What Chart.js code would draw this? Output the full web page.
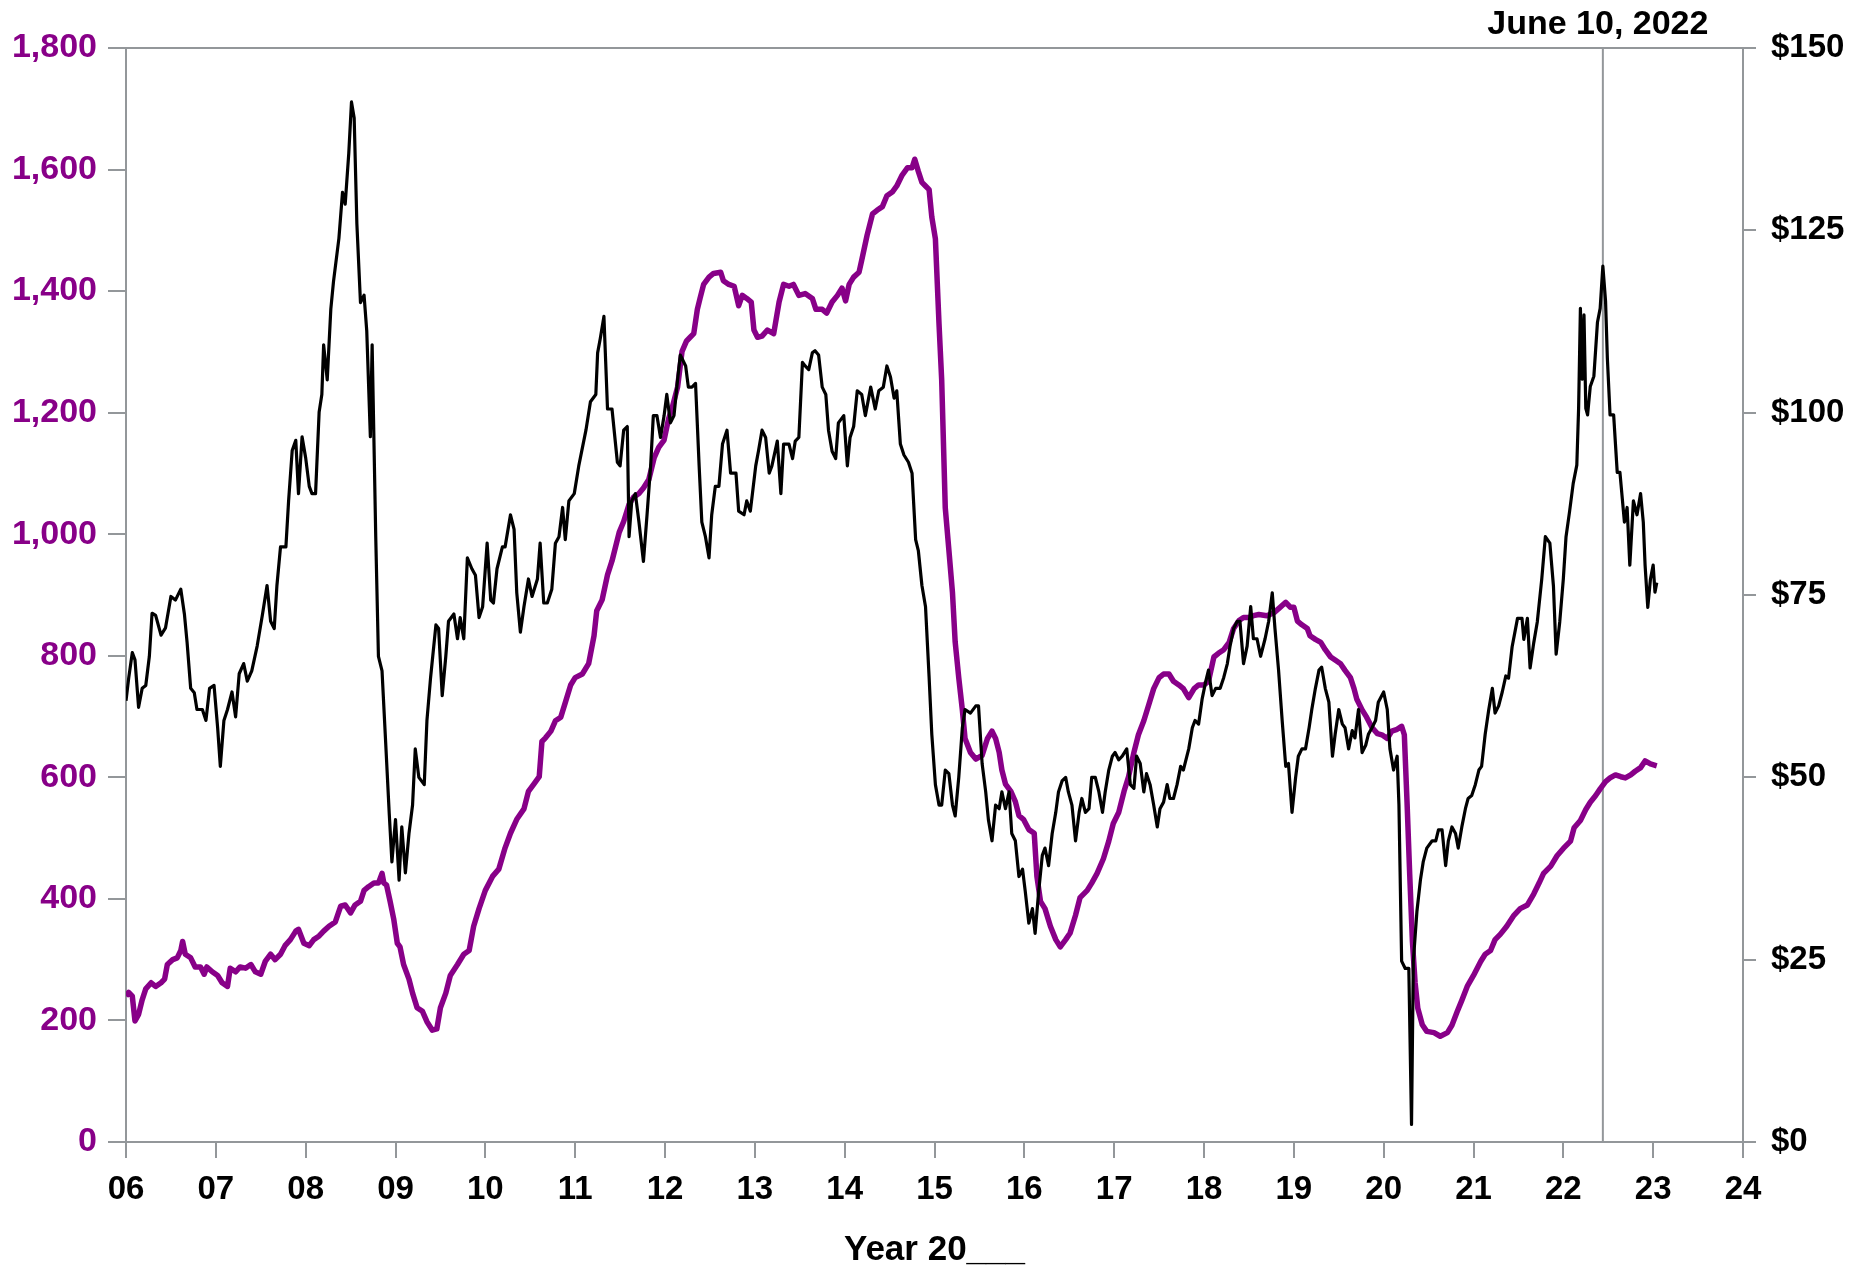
<!DOCTYPE html>
<html>
<head>
<meta charset="utf-8">
<script src="https://cdn.jsdelivr.net/npm/chart.js@4.4.1/dist/chart.umd.min.js"></script>
<style>
  html, body { margin: 0; padding: 0; background: #fff; }
  #wrap { width: 1855px; height: 1268px; position: relative; }
</style>
</head>
<body>
<div id="wrap"><canvas id="myChart"></canvas></div>
<script>
// x = years after 2000 (6.5 = mid 2006)
// WTI oil price, $/bbl (right axis)
const wtiPrice = [
  [6.00,60.5],[6.03,63.6],[6.07,67.1],[6.10,66.1],[6.14,59.6],[6.18,62.2],[6.22,62.6],[6.26,66.6],[6.29,72.5],[6.33,72.2],[6.39,69.5],[6.44,70.5],
  [6.50,74.8],[6.55,74.3],[6.61,75.8],[6.65,72.4],[6.68,68.5],[6.72,62.2],[6.76,61.6],[6.79,59.3],[6.85,59.3],[6.89,57.8],[6.93,62.2],[6.98,62.6],
  [7.02,56.8],[7.05,51.5],[7.09,57.8],[7.13,59.3],[7.18,61.7],[7.22,58.3],[7.26,64.2],[7.31,65.6],[7.35,63.2],[7.40,64.6],[7.46,68.0],[7.52,72.4],
  [7.57,76.3],[7.61,71.4],[7.65,70.4],[7.68,76.3],[7.72,81.6],[7.78,81.6],[7.81,87.9],[7.85,94.8],[7.89,96.2],[7.92,88.9],[7.96,96.7],
  [8.00,93.8],[8.04,89.9],[8.07,88.9],[8.11,88.9],[8.15,100.1],[8.18,102.5],[8.20,109.3],[8.24,104.5],[8.28,114.2],[8.31,118.0],[8.37,123.9],
  [8.41,130.2],[8.44,128.6],[8.48,135.6],[8.51,142.6],[8.54,140.4],[8.57,125.9],[8.61,115.1],[8.65,116.1],[8.68,111.2],[8.72,96.7],[8.74,109.3],
  [8.78,83.0],[8.81,66.6],[8.85,64.6],[8.89,54.9],[8.93,45.1],[8.96,38.4],
  [9.00,44.2],[9.04,35.9],[9.07,43.2],[9.11,36.9],[9.15,42.3],[9.19,46.2],[9.22,53.9],[9.26,50.0],[9.32,49.0],[9.35,57.8],[9.39,63.6],[9.45,70.9],
  [9.48,70.4],[9.52,61.2],[9.56,66.6],[9.59,71.4],[9.65,72.4],[9.69,69.0],[9.72,71.9],[9.76,69.0],[9.80,80.1],[9.85,78.6],[9.89,77.7],[9.93,71.9],[9.97,73.4],
  [10.02,82.1],[10.06,74.3],[10.09,73.9],[10.13,78.6],[10.19,81.6],[10.22,81.6],[10.28,86.0],[10.32,84.0],[10.35,75.3],[10.39,69.9],[10.43,73.4],
  [10.48,77.2],[10.52,74.8],[10.58,77.2],[10.61,82.1],[10.65,73.9],[10.69,73.9],[10.74,75.8],[10.78,82.1],[10.82,83.0],[10.86,87.0],[10.89,82.6],
  [10.93,87.9],[10.99,88.9],
  [11.04,92.7],[11.12,97.6],[11.17,101.5],[11.23,102.5],[11.25,108.2],[11.28,110.2],[11.32,113.2],[11.36,100.5],[11.41,100.5],[11.47,93.2],
  [11.50,92.7],[11.54,97.6],[11.58,98.1],[11.60,83.0],[11.63,87.9],[11.67,88.9],[11.71,85.0],[11.76,79.6],[11.80,86.0],[11.84,92.7],[11.87,99.6],
  [11.91,99.6],[11.95,96.6],[11.99,99.6],
  [12.02,102.5],[12.06,98.6],[12.10,99.6],[12.14,104.5],[12.17,107.9],[12.23,106.4],[12.26,103.5],[12.30,103.5],[12.34,104.0],[12.38,92.7],
  [12.41,85.0],[12.45,83.0],[12.49,80.1],[12.52,86.0],[12.56,89.9],[12.60,89.9],[12.64,95.7],[12.69,97.6],[12.73,91.7],[12.79,91.7],[12.82,86.5],
  [12.88,86.0],[12.91,87.9],[12.95,86.5],
  [13.01,92.7],[13.04,94.7],[13.08,97.6],[13.12,96.6],[13.16,91.7],[13.19,92.7],[13.25,96.1],[13.29,88.9],[13.32,95.7],[13.38,95.7],[13.42,93.7],
  [13.45,96.1],[13.49,96.6],[13.53,106.9],[13.56,106.4],[13.60,105.9],[13.64,108.2],[13.67,108.5],[13.71,107.9],[13.75,103.5],[13.79,102.5],
  [13.82,97.6],[13.86,94.7],[13.90,93.7],[13.93,98.6],[13.99,99.6],
  [14.03,92.7],[14.06,96.6],[14.10,98.1],[14.14,103.0],[14.19,102.5],[14.23,99.6],[14.29,103.5],[14.34,100.5],[14.38,103.0],[14.43,103.5],
  [14.47,106.4],[14.51,104.9],[14.55,102.0],[14.58,103.0],[14.62,95.7],[14.66,94.2],[14.71,93.2],[14.75,91.7],[14.79,82.6],[14.82,81.1],
  [14.86,76.3],[14.90,73.4],[14.94,63.7],[14.97,55.9],
  [15.01,49.0],[15.05,46.2],[15.08,46.2],[15.12,51.0],[15.16,50.5],[15.20,46.2],[15.23,44.7],[15.27,50.0],[15.31,56.8],[15.34,59.3],[15.40,58.8],
  [15.46,59.8],[15.49,59.8],[15.53,51.9],[15.57,48.0],[15.60,44.2],[15.64,41.3],[15.68,46.2],[15.72,45.7],[15.75,48.0],[15.79,45.7],[15.83,48.0],
  [15.86,42.3],[15.90,41.3],[15.94,36.4],[15.98,37.4],
  [16.01,34.4],[16.05,30.0],[16.09,32.0],[16.12,28.6],[16.16,34.4],[16.20,39.3],[16.23,40.3],[16.27,37.9],[16.31,42.3],[16.35,45.2],[16.38,48.0],
  [16.42,49.5],[16.46,50.0],[16.49,48.0],[16.53,46.2],[16.57,41.3],[16.61,45.2],[16.64,47.1],[16.68,45.2],[16.72,45.7],[16.75,50.0],[16.79,50.0],
  [16.83,48.0],[16.87,45.2],[16.90,48.0],[16.94,51.0],[16.98,52.9],
  [17.01,53.4],[17.05,52.4],[17.09,52.9],[17.14,53.9],[17.18,49.0],[17.22,48.5],[17.25,52.9],[17.29,51.9],[17.33,48.0],[17.36,50.5],[17.40,49.0],
  [17.44,46.2],[17.48,43.2],[17.51,45.7],[17.55,46.6],[17.59,49.0],[17.62,47.1],[17.66,47.1],[17.70,49.0],[17.74,51.5],[17.77,51.0],[17.83,53.9],
  [17.87,56.8],[17.90,57.8],[17.94,57.3],[17.98,60.8],
  [18.02,63.2],[18.05,64.7],[18.09,61.2],[18.13,62.2],[18.18,62.2],[18.22,63.7],[18.26,65.6],[18.29,68.0],[18.33,70.4],[18.37,71.4],[18.40,71.4],
  [18.44,65.6],[18.48,68.0],[18.52,73.4],[18.55,69.0],[18.59,69.0],[18.63,66.6],[18.68,69.0],[18.72,71.4],[18.76,75.3],[18.79,70.4],[18.83,64.7],
  [18.87,57.8],[18.91,51.5],[18.94,51.9],[18.98,45.2],
  [19.02,50.0],[19.05,52.9],[19.09,53.9],[19.13,53.9],[19.17,56.8],[19.20,59.3],[19.24,62.2],[19.28,64.7],[19.31,65.1],[19.35,62.2],[19.39,60.3],
  [19.43,52.9],[19.46,55.9],[19.50,59.3],[19.54,57.3],[19.57,56.8],[19.61,53.9],[19.65,56.4],[19.68,55.4],[19.72,59.3],[19.76,53.4],[19.80,54.4],
  [19.83,55.9],[19.87,56.8],[19.91,57.8],[19.94,60.3],
  [20.00,61.7],[20.04,59.3],[20.07,53.9],[20.11,51.0],[20.15,52.9],[20.17,46.2],[20.20,24.8],[20.24,23.8],[20.28,23.8],[20.31,2.4],[20.33,24.8],
  [20.37,31.6],[20.41,36.0],[20.44,38.4],[20.48,40.3],[20.54,41.3],[20.58,41.3],[20.61,42.8],[20.65,42.8],[20.69,37.9],[20.72,41.3],[20.76,43.2],
  [20.80,42.3],[20.83,40.3],[20.87,43.2],[20.91,45.7],[20.94,47.1],[20.98,47.5],
  [21.02,49.0],[21.06,51.0],[21.09,51.5],[21.13,55.9],[21.17,59.3],[21.21,62.2],[21.24,58.8],[21.28,59.8],[21.32,61.7],[21.36,63.9],[21.39,63.6],
  [21.43,67.9],[21.49,71.8],[21.54,71.8],[21.56,68.9],[21.60,71.8],[21.63,65.0],[21.67,68.4],[21.71,71.3],[21.76,77.2],[21.80,83.0],[21.85,82.1],
  [21.89,76.2],[21.92,66.9],[21.96,71.3],
  [22.00,77.2],[22.03,83.0],[22.07,86.5],[22.11,90.3],[22.15,92.8],[22.17,100.6],[22.19,114.3],[22.21,104.6],[22.23,113.4],[22.25,100.6],
  [22.27,99.7],[22.30,103.6],[22.34,105.0],[22.38,112.4],[22.41,114.3],[22.44,120.1],[22.47,115.3],[22.49,107.5],[22.52,99.7],[22.56,99.7],
  [22.60,91.8],[22.63,91.8],[22.68,85.0],[22.71,87.0],[22.74,79.1],[22.78,87.9],[22.82,86.0],[22.86,88.9],[22.89,85.0],[22.91,79.1],[22.94,73.3],
  [22.97,77.2],[23.00,79.1],[23.02,75.4],[23.04,76.7]
];

// oil rig count (left axis)
const rigCount = [
  [6.00,240],[6.03,246],[6.07,240],[6.10,199],[6.14,210],[6.18,234],[6.22,252],[6.28,262],[6.33,256],[6.39,262],[6.43,268],[6.46,292],
  [6.52,300],[6.57,303],[6.61,315],[6.63,330],[6.66,309],[6.72,303],[6.77,288],[6.83,288],[6.87,276],[6.90,288],[6.96,280],
  [7.02,274],[7.07,262],[7.13,256],[7.16,286],[7.22,280],[7.27,288],[7.33,286],[7.39,292],[7.44,280],[7.50,276],[7.55,297],[7.61,309],
  [7.66,300],[7.72,309],[7.77,323],[7.83,333],[7.89,347],[7.92,350],[7.98,327],
  [8.04,323],[8.09,333],[8.15,339],[8.20,347],[8.26,355],[8.33,362],[8.39,388],[8.44,390],[8.50,377],[8.55,390],[8.61,396],[8.65,414],
  [8.70,420],[8.76,426],[8.81,426],[8.85,442],[8.87,426],[8.90,423],[8.94,396],[8.98,367],
  [9.02,327],[9.05,321],[9.09,292],[9.15,268],[9.19,245],[9.24,221],[9.30,215],[9.35,198],[9.41,184],[9.46,186],[9.50,221],[9.56,245],
  [9.61,274],[9.69,292],[9.76,309],[9.82,315],[9.87,355],[9.93,384],
  [10.00,414],[10.08,437],[10.15,449],[10.22,484],[10.28,508],[10.35,531],[10.43,548],[10.48,577],[10.54,589],[10.60,601],[10.63,659],
  [10.67,665],[10.73,676],[10.78,693],[10.84,699],[10.89,723],[10.95,752],
  [11.00,764],[11.08,770],[11.15,787],[11.21,833],[11.24,874],[11.30,892],[11.36,933],[11.41,956],[11.49,1003],[11.54,1021],[11.60,1049],
  [11.65,1061],[11.71,1067],[11.76,1076],[11.82,1090],[11.88,1126],[11.93,1143],[11.99,1155],
  [12.04,1190],[12.08,1208],[12.14,1242],[12.19,1301],[12.24,1318],[12.28,1324],[12.32,1330],[12.36,1370],[12.39,1388],[12.43,1411],
  [12.49,1423],[12.54,1429],[12.62,1431],[12.65,1417],[12.71,1411],[12.77,1408],[12.82,1376],[12.86,1393],[12.91,1388],[12.96,1382],[12.99,1336],
  [13.03,1324],[13.08,1326],[13.14,1336],[13.21,1330],[13.27,1382],[13.32,1411],[13.38,1408],[13.43,1411],[13.49,1393],[13.56,1396],
  [13.64,1388],[13.68,1370],[13.75,1370],[13.80,1364],[13.86,1382],[13.92,1393],[13.97,1405],
  [14.01,1384],[14.05,1411],[14.10,1423],[14.16,1431],[14.19,1451],[14.25,1492],[14.31,1527],[14.36,1533],[14.42,1539],[14.47,1557],
  [14.53,1563],[14.58,1573],[14.64,1591],[14.70,1603],[14.75,1603],[14.78,1617],[14.82,1597],[14.86,1579],[14.90,1573],[14.94,1567],[14.97,1522],
  [15.01,1486],[15.05,1347],[15.08,1254],[15.12,1043],[15.16,974],[15.20,904],[15.23,823],[15.27,764],[15.31,711],[15.34,664],[15.40,641],
  [15.46,630],[15.53,636],[15.59,664],[15.64,676],[15.68,664],[15.72,641],[15.75,612],[15.79,589],[15.85,577],[15.90,560],[15.94,537],[15.99,531],
  [16.05,514],[16.11,508],[16.14,437],[16.18,396],[16.23,384],[16.29,355],[16.35,333],[16.40,321],[16.46,333],[16.51,344],[16.57,373],
  [16.62,402],[16.70,414],[16.75,426],[16.81,442],[16.88,466],[16.94,495],[16.99,524],
  [17.05,542],[17.11,577],[17.16,601],[17.22,641],[17.27,670],[17.33,693],[17.38,717],[17.44,746],[17.50,764],[17.55,770],[17.61,770],
  [17.66,758],[17.72,752],[17.77,746],[17.83,731],[17.89,746],[17.94,752],
  [18.00,752],[18.05,758],[18.11,798],[18.16,804],[18.22,810],[18.28,822],[18.33,845],[18.39,858],[18.44,863],[18.50,863],[18.55,866],
  [18.61,868],[18.70,866],[18.78,871],[18.85,880],[18.91,888],[18.96,880],
  [19.00,880],[19.04,857],[19.09,851],[19.15,845],[19.18,833],[19.24,827],[19.30,822],[19.35,810],[19.41,798],[19.46,793],[19.52,787],
  [19.57,776],[19.63,764],[19.67,746],[19.70,729],[19.76,711],[19.81,699],[19.87,682],[19.93,672],[19.98,670],
  [20.04,664],[20.09,676],[20.15,679],[20.20,684],[20.23,670],[20.26,560],[20.29,440],[20.32,330],[20.35,262],[20.38,220],[20.43,193],
  [20.48,182],[20.56,180],[20.63,174],[20.71,180],[20.76,192],[20.82,215],[20.87,233],[20.93,256],
  [21.00,274],[21.08,297],[21.13,309],[21.19,315],[21.24,333],[21.30,342],[21.37,355],[21.45,373],[21.52,384],[21.60,390],[21.67,408],
  [21.73,426],[21.78,442],[21.86,454],[21.93,471],
  [22.00,483],[22.08,495],[22.12,517],[22.19,529],[22.25,547],[22.30,559],[22.36,570],[22.41,581],[22.47,593],[22.52,599],[22.58,604],
  [22.64,601],[22.69,599],[22.75,604],[22.80,610],[22.86,616],[22.91,627],[22.97,622],[23.04,619]
];

const markerDate = 22.44;       // June 10, 2022
const markerLabel = 'June 10, 2022';
const xLabel = 'Year 20___';

const PURPLE = '#880088';
const GREY = '#93979a';
const FONT = '"Liberation Sans", Arial, sans-serif';

const toXY = pairs => pairs.map(p => ({x: p[0], y: p[1]}));

const frameAndLabel = {
  id: 'frameAndLabel',
  afterDraw(chart) {
    const ctx = chart.ctx;
    const area = chart.chartArea;
    ctx.save();
    ctx.strokeStyle = GREY;
    ctx.lineWidth = 2;
    ctx.beginPath();
    ctx.moveTo(area.left, area.top);
    ctx.lineTo(area.right, area.top);
    ctx.stroke();
    const px = chart.scales.x.getPixelForValue(markerDate);
    ctx.fillStyle = '#000';
    ctx.font = 'bold 34px ' + FONT;
    ctx.textAlign = 'center';
    ctx.textBaseline = 'alphabetic';
    ctx.fillText(markerLabel, px - 5, 34);
    ctx.restore();
  }
};

const config = {
  type: 'line',
  data: {
    datasets: [{
      label: 'WTI',
      data: toXY(wtiPrice),
      yAxisID: 'y1',
      borderColor: '#000',
      borderWidth: 3.2,
      pointRadius: 0,
      tension: 0,
      borderJoinStyle: 'round',
      order: 0
    }, {
      label: 'Rigs',
      data: toXY(rigCount),
      yAxisID: 'y',
      borderColor: PURPLE,
      borderWidth: 5.5,
      pointRadius: 0,
      tension: 0,
      borderJoinStyle: 'round',
      order: 1
    }, {
      label: 'marker',
      data: [{x: markerDate, y: 0}, {x: markerDate, y: 1800}],
      yAxisID: 'y',
      borderColor: GREY,
      borderWidth: 2,
      pointRadius: 0,
      order: 2
    }]
  },
  options: {
    responsive: true,
    maintainAspectRatio: false,
    animation: false,
    devicePixelRatio: 1,
    layout: { padding: { top: 48, left: 0, right: 0, bottom: 0 } },
    plugins: {
      legend: { display: false },
      tooltip: { enabled: false }
    },
    scales: {
      x: {
        type: 'linear',
        min: 6,
        max: 24,
        afterFit: s => { s.height = 126; },
        border: { display: true, color: GREY, width: 2 },
        grid: { drawOnChartArea: false, drawTicks: true, tickLength: 16, color: GREY, lineWidth: 2 },
        ticks: {
          stepSize: 1,
          padding: 15,
          maxRotation: 0,
          autoSkip: false,
          color: '#000',
          font: { family: FONT, size: 33, weight: 'bold', lineHeight: 1 },
          callback: v => (v < 10 ? '0' : '') + v
        },
        title: {
          display: true,
          text: xLabel,
          color: '#000',
          padding: 0,
          font: { family: FONT, size: 35, weight: 'bold', lineHeight: 1 }
        }
      },
      y: {
        position: 'left',
        min: 0,
        max: 1800,
        afterFit: s => { s.width = 126; },
        border: { display: true, color: GREY, width: 2 },
        grid: { drawOnChartArea: false, drawTicks: true, tickLength: 18, color: GREY, lineWidth: 2 },
        ticks: {
          stepSize: 200,
          padding: 11,
          color: PURPLE,
          font: { family: FONT, size: 34, weight: 'bold' },
          callback: v => v.toLocaleString('en-US')
        }
      },
      y1: {
        position: 'right',
        min: 0,
        max: 150,
        afterFit: s => { s.width = 112; },
        border: { display: true, color: GREY, width: 2 },
        grid: { drawOnChartArea: false, drawTicks: true, tickLength: 13, color: GREY, lineWidth: 2 },
        ticks: {
          stepSize: 25,
          padding: 15,
          color: '#000',
          font: { family: FONT, size: 33, weight: 'bold' },
          callback: v => '$' + v
        }
      }
    }
  },
  plugins: [frameAndLabel]
};

function buildChart() {
  const ctx = document.getElementById('myChart').getContext('2d');
  return new Chart(ctx, config);
}

window.addEventListener('load', () => {
  buildChart();
});
</script>
</body>
</html>
